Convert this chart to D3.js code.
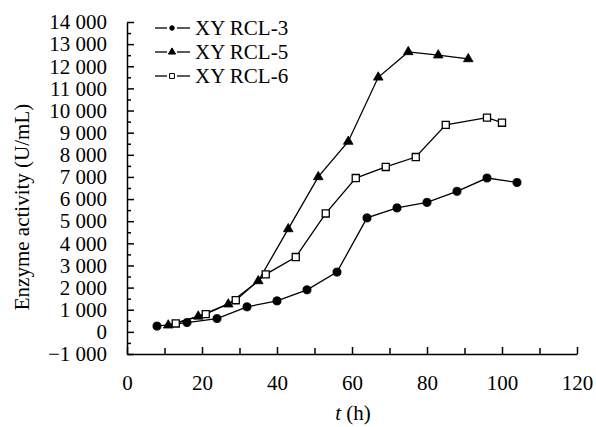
<!DOCTYPE html>
<html>
<head>
<meta charset="utf-8">
<script src="https://cdn.jsdelivr.net/npm/d3@7"></script>
<style>
  body { margin: 0; background: #fff; }
  svg text { font-family: "Liberation Serif", "Times New Roman", serif; fill: #000; }
</style>
</head>
<body>
<div id="chart"></div>
<script>
// time (h) and enzyme activity (U/mL)
var tRCL3 = [8, 16, 24, 32, 40, 48, 56, 64, 72, 80, 88, 96, 104];
var vRCL3 = [260, 420, 600, 1130, 1400, 1900, 2700, 5150, 5600, 5850, 6350, 6950, 6750];
var tRCL5 = [11, 19, 27, 35, 43, 51, 59, 67, 75, 83, 91];
var vRCL5 = [300, 700, 1250, 2300, 4650, 7000, 8600, 11500, 12650, 12500, 12330];
var tRCL6 = [13, 21, 29, 37, 45, 53, 61, 69, 77, 85, 96, 100];
var vRCL6 = [380, 800, 1430, 2600, 3380, 5350, 6950, 7450, 7900, 9350, 9680, 9450];
var seriesNames = ['XY RCL-3', 'XY RCL-5', 'XY RCL-6'];
var xTicks = [0, 20, 40, 60, 80, 100, 120];
var yTicks = d3.range(-1000, 14001, 1000);

var w = 596, h = 427;
var margin = {top: 22, right: 19, bottom: 73, left: 127};

var svg = d3.select('#chart').append('svg')
  .attr('width', w)
  .attr('height', h);

var g = svg.append('g')
  .attr('transform', 'translate(' + margin.left + ',' + margin.top + ')');

var width = w - margin.left - margin.right;
var height = h - margin.top - margin.bottom;

var x = d3.scaleLinear().domain([0, 120]).range([0, width]);
var y = d3.scaleLinear().domain([-1000, 14000]).range([height, 0]);

var loc = d3.formatLocale({decimal: '.', thousands: ' ', grouping: [3], currency: ['', ''], minus: '\u2212'});
var fmt = loc.format(',d');

// minor ticks first
g.append('g')
  .attr('transform', 'translate(0,' + height + ')')
  .call(d3.axisBottom(x).tickValues(d3.range(10, 120, 20)).tickSize(-6).tickFormat(''))
  .call(function (a) { a.select('.domain').remove(); });
g.append('g')
  .call(d3.axisLeft(y).tickValues(d3.range(-500, 14000, 1000)).tickSize(-4).tickFormat(''))
  .call(function (a) { a.select('.domain').remove(); });

var xAxis = g.append('g')
  .attr('transform', 'translate(0,' + height + ')')
  .call(d3.axisBottom(x).tickValues(xTicks).tickSizeInner(-7).tickSizeOuter(0).tickPadding(21));
var yAxis = g.append('g')
  .call(d3.axisLeft(y).tickValues(yTicks).tickFormat(fmt).tickSizeInner(-7).tickSizeOuter(0).tickPadding(20));

g.selectAll('.tick line, .domain').attr('stroke', '#000').attr('stroke-width', 1.5);
g.selectAll('.tick text').attr('font-size', 21).attr('font-family', '"Liberation Serif", "Times New Roman", serif');

// axis titles
svg.append('text')
  .attr('transform', 'translate(29,' + (margin.top + 185) + ') rotate(-90)')
  .attr('text-anchor', 'middle')
  .attr('font-size', 21)
  .text('Enzyme activity (U/mL)');

var xt = svg.append('text')
  .attr('x', margin.left + width / 2 + 1)
  .attr('y', 420)
  .attr('text-anchor', 'middle')
  .attr('font-size', 21);
xt.append('tspan').attr('font-style', 'italic').text('t');
xt.append('tspan').text(' (h)');

var line = d3.line()
  .x(function (d) { return x(d[0]); })
  .y(function (d) { return y(d[1]); });

var data = [d3.zip(tRCL3, vRCL3), d3.zip(tRCL5, vRCL5), d3.zip(tRCL6, vRCL6)];
var symbols = [d3.symbolCircle, d3.symbolTriangle, d3.symbolSquare];
var symSize = [52, 40, 50];
var legSize = [16, 22, 24];

data.forEach(function (pts, i) {
  g.append('path')
    .datum(pts)
    .attr('d', line)
    .attr('fill', 'none')
    .attr('stroke', '#000')
    .attr('stroke-width', 1.3);

  g.selectAll('.m' + i)
    .data(pts)
    .enter().append('path')
    .attr('class', 'm' + i)
    .attr('transform', function (d) { return 'translate(' + x(d[0]) + ',' + y(d[1]) + ')'; })
    .attr('d', d3.symbol().type(symbols[i]).size(symSize[i]))
    .attr('fill', i === 2 ? '#fff' : '#000')
    .attr('stroke', '#000')
    .attr('stroke-width', i === 2 ? 1.3 : 0.8);
});

// legend
var leg = svg.append('g').attr('transform', 'translate(155,28)');
seriesNames.forEach(function (name, i) {
  var row = leg.append('g').attr('transform', 'translate(0,' + (i * 24) + ')');
  row.append('line').attr('x1', 0).attr('x2', 12).attr('stroke', '#000').attr('stroke-width', 1.3);
  row.append('line').attr('x1', 22).attr('x2', 35).attr('stroke', '#000').attr('stroke-width', 1.3);
  row.append('path')
    .attr('transform', 'translate(17,0)')
    .attr('d', d3.symbol().type(symbols[i]).size(legSize[i]))
    .attr('fill', i === 2 ? '#fff' : '#000')
    .attr('stroke', '#000')
    .attr('stroke-width', 1);
  row.append('text')
    .attr('x', 40)
    .attr('dy', '0.33em')
    .attr('font-size', 21)
    .text(name);
});
</script>
</body>
</html>
